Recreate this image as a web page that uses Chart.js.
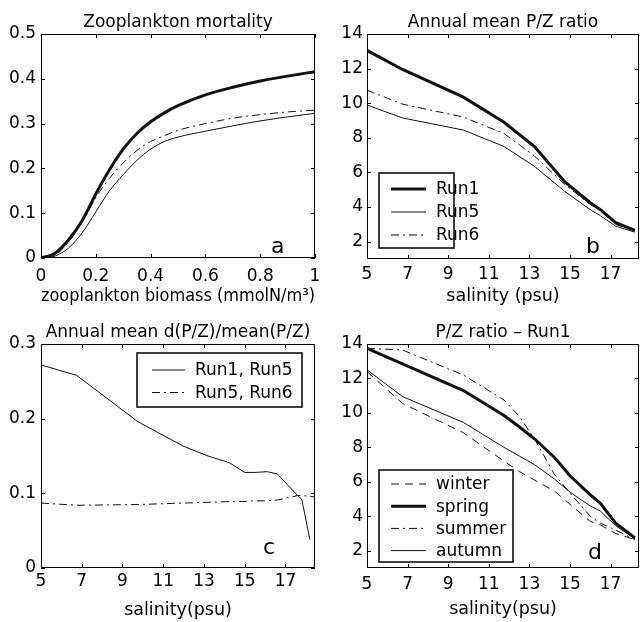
<!DOCTYPE html>
<html>
<head>
<meta charset="utf-8">
<script src="https://cdn.jsdelivr.net/npm/chart.js@4.4.1/dist/chart.umd.min.js"></script>
<style>
  html, body { margin: 0; padding: 0; background: #fff; }
  #wrap { position: relative; width: 640px; height: 622px; overflow: hidden; }
  .panel { position: absolute; }
</style>
</head>
<body>
<div id="wrap">
  <div class="panel" style="left:0;top:0"><canvas id="chartA" width="335" height="311"></canvas></div>
  <div class="panel" style="left:320px;top:0"><canvas id="chartB" width="320" height="311"></canvas></div>
  <div class="panel" style="left:0;top:311px"><canvas id="chartC" width="335" height="311"></canvas></div>
  <div class="panel" style="left:320px;top:311px"><canvas id="chartD" width="320" height="311"></canvas></div>
</div>
<script>
// panel a - zooplankton mortality
const biomass = [0, 0.05, 0.1, 0.15, 0.2, 0.25, 0.3, 0.35, 0.4, 0.45, 0.5, 0.6, 0.7, 0.8, 0.9, 1.0];
const mortRun1 = [0, 0.01, 0.04, 0.083, 0.143, 0.197, 0.243, 0.278, 0.304, 0.324, 0.34, 0.364, 0.381, 0.395, 0.406, 0.416];
const mortRun5 = [0, 0.004, 0.022, 0.056, 0.103, 0.15, 0.186, 0.218, 0.243, 0.26, 0.27, 0.283, 0.295, 0.306, 0.315, 0.323];
const mortRun6 = [0, 0.006, 0.035, 0.08, 0.135, 0.178, 0.212, 0.24, 0.26, 0.273, 0.285, 0.3, 0.312, 0.32, 0.326, 0.33];
const biomassTicks = [0, 0.2, 0.4, 0.6, 0.8, 1];
const mortTicks = [0, 0.1, 0.2, 0.3, 0.4, 0.5];

// panel b - annual mean P/Z
const salB = [5, 6.75, 9.75, 11.75, 13.25, 14.75, 16, 16.5, 17.25, 18.2];
const pzRun1 = [13.05, 11.95, 10.35, 8.9, 7.5, 5.45, 4.25, 3.85, 3.1, 2.65];
const pzRun5 = [9.9, 9.15, 8.45, 7.5, 6.35, 4.9, 3.85, 3.5, 2.9, 2.55];
const pzRun6 = [10.75, 9.95, 9.2, 8.25, 6.95, 5.3, 4.15, 3.8, 3.0, 2.65];

// panel c - relative difference
const salC = [5, 6.75, 9.75, 12, 13.2, 14.25, 15, 15.5, 16.1, 16.6, 17.6, 17.8, 18.2];
const salC56 = [5, 6.75, 9.75, 12, 13.2, 14.25, 15, 15.5, 16.1, 16.6, 17.6, 17.8, 18.2, 18.45];
const dRun15 = [0.272, 0.258, 0.196, 0.163, 0.15, 0.141, 0.128, 0.128, 0.129, 0.126, 0.097, 0.092, 0.038];
const dRun56 = [0.087, 0.084, 0.085, 0.087, 0.088, 0.089, 0.089, 0.09, 0.09, 0.091, 0.097, 0.097, 0.096, 0.095];
const diffTicks = [0, 0.1, 0.2, 0.3];

// panel d - seasonal P/Z, Run1
const salD = [5, 6.75, 9.75, 11.75, 12.5, 13.25, 14.25, 15, 16, 16.5, 17.25, 18.2];
const winter = [12.4, 10.55, 8.85, 7.2, 6.6, 6.1, 5.45, 4.7, 3.7, 3.5, 3.0, 2.65];
const spring = [13.75, 12.85, 11.3, 9.85, 9.2, 8.5, 7.4, 6.35, 5.25, 4.75, 3.6, 2.75];
const summer = [13.75, 13.65, 12.2, 10.75, 9.8, 8.5, 6.4, 5.35, 4.0, 3.6, 3.2, 2.65];
const autumn = [12.5, 10.95, 9.45, 8.0, 7.5, 7.0, 6.15, 5.4, 4.6, 4.3, 3.45, 2.7];

const salTicks = [5, 7, 9, 11, 13, 15, 17];
const pzTicks = [2, 4, 6, 8, 10, 12, 14];

const FONT = 'DejaVu Sans';
const pts = (xs, ys) => ys.map((v, i) => ({x: xs[i], y: v}));

const THICK = {borderWidth: 3, borderDash: []};
const THIN = {borderWidth: 1, borderDash: []};
const DASHDOT = {borderWidth: 1, borderDash: [8, 4, 2, 4]};
const DASHED = {borderWidth: 1, borderDash: [8, 6]};

function series(label, xs, ys, style) {
  return Object.assign({
    label: label,
    data: pts(xs, ys),
    borderColor: '#111',
    pointRadius: 0,
    fill: false,
    tension: 0
  }, style);
}

// frame with inward ticks, panel letter and boxed legend
const frame = {
  id: 'frame',
  afterDatasetsDraw(chart, args, o) {
    const {ctx, chartArea: ca, scales} = chart;
    ctx.save();
    ctx.strokeStyle = '#000';
    ctx.lineWidth = 1;
    ctx.strokeRect(ca.left + 0.5, ca.top + 0.5, ca.right - ca.left - 1, ca.bottom - ca.top - 1);
    ctx.beginPath();
    scales.x.ticks.forEach(t => {
      const p = Math.round(scales.x.getPixelForValue(t.value)) + 0.5;
      ctx.moveTo(p, ca.bottom); ctx.lineTo(p, ca.bottom - 4);
      ctx.moveTo(p, ca.top); ctx.lineTo(p, ca.top + 4);
    });
    scales.y.ticks.forEach(t => {
      const p = Math.round(scales.y.getPixelForValue(t.value)) + 0.5;
      ctx.moveTo(ca.left, p); ctx.lineTo(ca.left + 4, p);
      ctx.moveTo(ca.right, p); ctx.lineTo(ca.right - 4, p);
    });
    ctx.stroke();

    ctx.fillStyle = '#000';
    ctx.font = '22px "' + FONT + '"';
    ctx.textBaseline = 'alphabetic';
    ctx.textAlign = 'left';
    ctx.fillText(o.letter, o.letterX, o.letterY);

    const lg = o.legend;
    if (lg) {
      ctx.fillStyle = '#fff';
      ctx.fillRect(lg.x, lg.y, lg.w, lg.h);
      ctx.lineWidth = 1.5;
      ctx.strokeStyle = '#000';
      ctx.strokeRect(lg.x, lg.y, lg.w, lg.h);
      ctx.font = '17px "' + FONT + '"';
      ctx.textBaseline = 'middle';
      chart.data.datasets.forEach((ds, i) => {
        const ry = lg.row0 + i * lg.gap;
        ctx.strokeStyle = ds.borderColor;
        ctx.lineWidth = ds.borderWidth;
        ctx.setLineDash(ds.borderDash);
        ctx.beginPath();
        ctx.moveTo(lg.x1, ry); ctx.lineTo(lg.x2, ry);
        ctx.stroke();
        ctx.setLineDash([]);
        ctx.fillStyle = '#000';
        ctx.fillText(ds.label, lg.tx, ry + 1);
      });
    }
    ctx.restore();
  }
};

function axis(min, max, ticks, size, pad, title, titlePad) {
  const ax = {
    type: 'linear',
    min: min,
    max: max,
    grid: {display: false, drawTicks: false},
    border: {display: false},
    afterBuildTicks: s => { s.ticks = ticks.map(v => ({value: v})); },
    ticks: {
      color: '#000',
      font: {family: FONT, size: 17},
      padding: pad,
      autoSkip: false,
      maxRotation: 0,
      callback: v => String(v)
    }
  };
  if (title) {
    ax.title = {display: true, text: title, color: '#000',
      font: {family: FONT, size: 17.5}, padding: {top: 0, bottom: titlePad}};
    ax.afterFit = s => { s.height = size; };
  } else {
    ax.afterFit = s => { s.width = size; };
  }
  return ax;
}

function makeChart(id, p) {
  return new Chart(document.getElementById(id), {
    type: 'line',
    data: {datasets: p.datasets},
    options: {
      responsive: false,
      animation: false,
      events: [],
      layout: {padding: {left: 0, right: p.right, top: 0, bottom: 0}},
      scales: {x: p.x, y: p.y},
      plugins: {
        legend: {display: false},
        tooltip: {enabled: false},
        title: {
          display: true,
          text: p.title,
          fullSize: false,
          color: '#000',
          font: {family: FONT, size: 17, weight: 'normal'},
          padding: {top: p.top - 21.4, bottom: 1}
        },
        frame: p.frame
      }
    },
    plugins: [frame]
  });
}

makeChart('chartA', {
  title: 'Zooplankton mortality',
  top: 34, right: 20,
  datasets: [
    Object.assign(series('Run1', biomass, mortRun1, THICK), {cubicInterpolationMode: 'monotone'}),
    Object.assign(series('Run5', biomass, mortRun5, THIN), {cubicInterpolationMode: 'monotone'}),
    Object.assign(series('Run6', biomass, mortRun6, DASHDOT), {cubicInterpolationMode: 'monotone'})
  ],
  x: axis(0, 1, biomassTicks, 53, 8, 'zooplankton biomass (mmolN/m\u00b3)', 4),
  y: axis(0, 0.5, mortTicks, 41, 5),
  frame: {letter: 'a', letterX: 271, letterY: 253}
});

makeChart('chartB', {
  title: 'Annual mean P/Z ratio',
  top: 34, right: 1,
  datasets: [
    series('Run1', salB, pzRun1, THICK),
    series('Run5', salB, pzRun5, THIN),
    series('Run6', salB, pzRun6, DASHDOT)
  ],
  x: axis(5, 18.4, salTicks, 52, 5, 'salinity (psu)', 4),
  y: axis(1, 14, pzTicks, 47, 4),
  frame: {letter: 'b', letterX: 266, letterY: 253,
    legend: {x: 59, y: 173, w: 75, h: 75, row0: 189, gap: 23, x1: 71, x2: 106, tx: 116}}
});

makeChart('chartC', {
  title: 'Annual mean d(P/Z)/mean(P/Z)',
  top: 33, right: 20,
  datasets: [
    series('Run1, Run5', salC, dRun15, THIN),
    series('Run5, Run6', salC56, dRun56, DASHDOT)
  ],
  x: axis(5, 18.45, salTicks, 54, 3, 'salinity(psu)', 1),
  y: axis(0, 0.3, diffTicks, 41, 5),
  frame: {letter: 'c', letterX: 263, letterY: 243,
    legend: {x: 137, y: 42, w: 165, h: 54, row0: 59, gap: 22.5, x1: 152, x2: 185, tx: 195}}
});

makeChart('chartD', {
  title: 'P/Z ratio \u2013 Run1',
  top: 33, right: 1,
  datasets: [
    series('winter', salD, winter, DASHED),
    series('spring', salD, spring, THICK),
    series('summer', salD, summer, DASHDOT),
    series('autumn', salD, autumn, THIN)
  ],
  x: axis(5, 18.4, salTicks, 54, 6, 'salinity(psu)', 2),
  y: axis(1, 14, pzTicks, 47, 4),
  frame: {letter: 'd', letterX: 268, letterY: 248,
    legend: {x: 59, y: 159, w: 134, h: 92, row0: 173, gap: 22.2, x1: 71, x2: 106, tx: 116}}
});
</script>
</body>
</html>
